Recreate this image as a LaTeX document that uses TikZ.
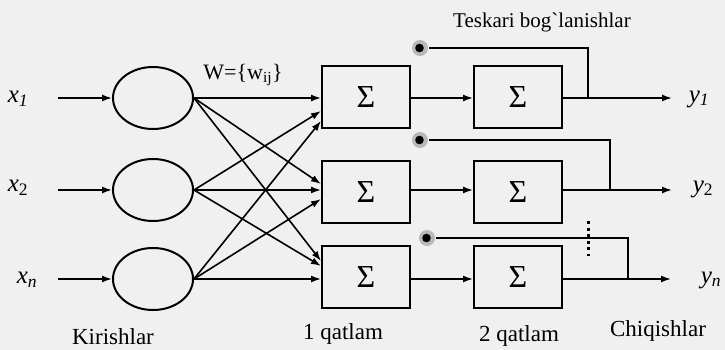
\documentclass[tikz,border=0pt]{standalone}
\usepackage{fontspec}
\setmainfont{Liberation Serif}
\newfontfamily\rawserif{Liberation Serif}[Ligatures=TeXOff]
\usetikzlibrary{arrows.meta,shapes.geometric}
\begin{document}
\begin{tikzpicture}[x=1pt,y=-1pt,
  line width=1.6pt,
  arr/.style={-{Latex[length=10pt,width=7pt]}},
  neuron/.style={ellipse,draw,line width=2pt,minimum width=80pt,minimum height=62pt,inner sep=0pt},
  sumbox/.style={rectangle,draw,line width=2pt,minimum width=88pt,minimum height=62pt,inner sep=0pt,font=\fontsize{32}{34}\selectfont},
  lbl/.style={font=\fontsize{22}{24}\selectfont,inner sep=0pt},
  io/.style={font=\fontsize{25}{27}\selectfont\itshape,inner sep=0pt},
  fbdot/.style={circle,fill=black!28,minimum size=16pt,inner sep=0pt,path picture={\fill[black] ([xshift=-0.5pt]path picture bounding box.center) circle (4.3pt);}}]
\useasboundingbox[fill=black!6] (0,0) rectangle (725,350);
% input labels
\node[io] (x1) at (18,99) {x\textsubscript{1}};
\node[io] (x2) at (18,188) {x\textsubscript{\upshape 2}};
\node[io] (xn) at (27,280) {x\textsubscript{n}};
\coordinate (i1) at (58,98);
\coordinate (i2) at (58,190);
\coordinate (i3) at (58,279);
% neurons
\node[neuron] (e1) at (153,98) {};
\node[neuron] (e2) at (153,190) {};
\node[neuron] (e3) at (153,279) {};
% layer boxes
\node[sumbox] (a1) at (366,97) {Σ};
\node[sumbox] (a2) at (366,192) {Σ};
\node[sumbox] (a3) at (366,277) {Σ};
\node[sumbox] (b1) at (518,97) {Σ};
\node[sumbox] (b2) at (518,192) {Σ};
\node[sumbox] (b3) at (518,277) {Σ};
% input arrows
\draw[arr] (i1) -- (e1.west);
\draw[arr] (i2) -- (e2.west);
\draw[arr] (i3) -- (e3.west);
% weight connections
\draw[arr] (e1.east) -- (a1.west |- e1.east);
\draw[arr] (e2.east) -- ([yshift=-14pt]a1.west);
\draw[arr] (e3.east) -- ([yshift=-24pt]a1.west);
\draw[arr] (e1.east) -- ([yshift=8pt]a2.west);
\draw[arr] (e2.east) -- (a2.west |- e2.east);
\draw[arr] (e3.east) -- ([yshift=-7pt]a2.west);
\draw[arr] (e1.east) -- ([yshift=16pt]a3.west);
\draw[arr] (e2.east) -- ([yshift=11pt]a3.west);
\draw[arr] (e3.east) -- (a3.west |- e3.east);
% between layers
\draw[arr] (a1.east |- 0,98) -- (b1.west |- 0,98);
\draw[arr] (a2.east |- 0,190) -- (b2.west |- 0,190);
\draw[arr] (a3.east |- 0,279) -- (b3.west |- 0,279);
% outputs
\coordinate (o1) at (672,98);
\coordinate (o2) at (672,190);
\coordinate (o3) at (671,279);
\draw[arr] (b1.east |- o1) -- (o1);
\draw[arr] (b2.east |- o2) -- (o2);
\draw[arr] (b3.east |- o3) -- (o3);
\node[io] (y1) at (699,99) {y\textsubscript{1}};
\node[io] (y2) at (703,189) {y\textsubscript{\upshape 2}};
\node[io] (yn) at (711,280) {y\textsubscript{n}};
% feedback
\node[fbdot] (d1) at (420,48) {};
\node[fbdot] (d2) at (420,140) {};
\node[fbdot] (d3) at (427,238) {};
\coordinate (f1) at (588,98);
\coordinate (f2) at (610,190);
\coordinate (f3) at (628,279);
\draw (f1) |- (d1.east);
\draw (f2) |- (d2.east);
\draw (f3) |- (d3.east);
% vertical dots
\coordinate (v1) at (588,221);
\coordinate (v2) at (588,256);
\draw[line width=3pt,dash pattern=on 3pt off 3.6pt] (v1) -- (v2);
% texts
\node[lbl] (w) at (243,75) {W=\{w\textsubscript{ij}\}};
\node[lbl,font=\fontsize{21}{23}\selectfont] (t) at (542,22) {Teskari bog{\rawserif`}lanishlar};
\node[lbl,font=\fontsize{23}{25}\selectfont] (k) at (113,337) {Kirishlar};
\node[lbl,font=\fontsize{23}{25}\selectfont] (q1) at (343,334) {1 qatlam};
\node[lbl,font=\fontsize{23}{25}\selectfont] (q2) at (519,336) {2 qatlam};
\node[lbl,font=\fontsize{23}{25}\selectfont] (ch) at (658,331) {Chiqishlar};
\end{tikzpicture}
\end{document}
